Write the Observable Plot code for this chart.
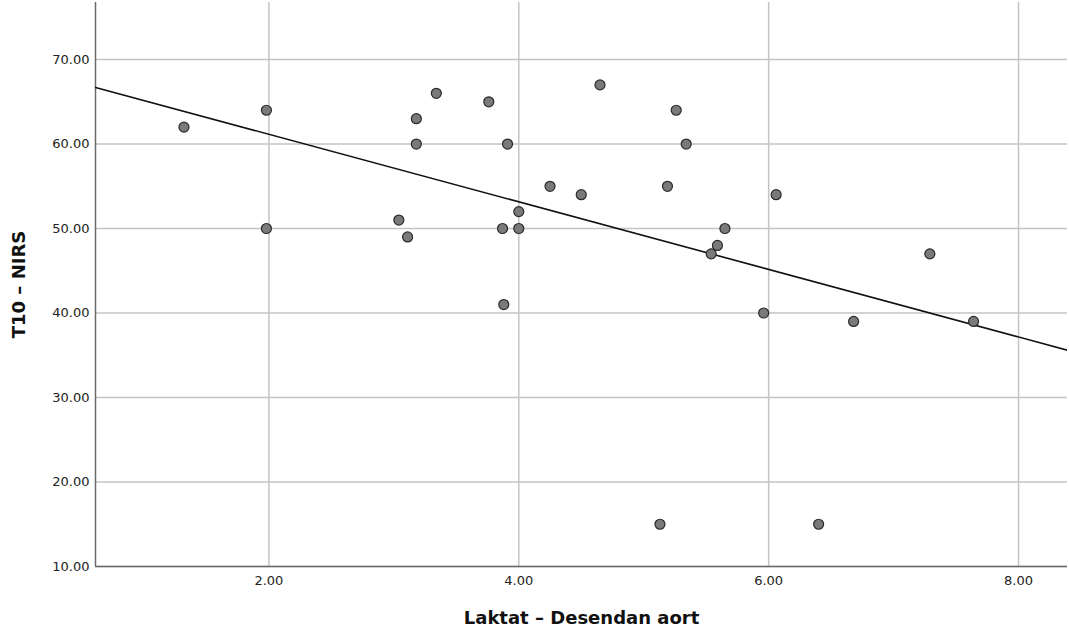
<!DOCTYPE html>
<html><head><meta charset="utf-8">
<script src="https://cdn.jsdelivr.net/npm/d3@7"></script>
<script src="https://cdn.jsdelivr.net/npm/@observablehq/plot@0.6"></script>
<style>body{margin:0;background:#fff}</style>
</head><body><div id="chart"></div>
<script>
// Laktat – Desendan aort (x) vs T10 – NIRS (y)
const laktat = [1.32, 1.98, 1.98, 3.04, 3.11, 3.18, 3.18, 3.34, 3.76, 3.91, 3.87, 3.88, 4.00, 4.00, 4.25, 4.50, 4.65, 5.26, 5.19, 5.34, 5.13, 5.54, 5.59, 5.65, 5.96, 6.06, 6.40, 6.68, 7.29, 7.64];
const nirs   = [62,   64,   50,   51,   49,   63,   60,   66,   65,   60,   50,   41,   52,   50,   55,   54,   67,   64,   55,   60,   15,   47,   48,   50,   40,   54,   15,   39,   47,   39];
const xTicks = [2, 4, 6, 8];
const yTicks = [10, 20, 30, 40, 50, 60, 70];
const xDomain = [0.612, 8.392];
const yDomain = [10, 76.75];

const data = laktat.map((x, i) => ({x, y: nirs[i]}));
const mx = d3.mean(laktat), my = d3.mean(nirs);
const slope = d3.sum(data, d => (d.x - mx) * (d.y - my)) / d3.sum(data, d => (d.x - mx) ** 2);
const intercept = my - slope * mx;
const fit = xDomain.map(x => ({x, y: intercept + slope * x}));

const fmt = d3.format(".2f");
const chart = Plot.plot({
  width: 1069,
  height: 634,
  marginLeft: 95,
  marginRight: 2,
  marginTop: 2,
  marginBottom: 68,
  style: {fontFamily: "DejaVu Sans", fontSize: "13px", color: "#222", background: "#fff"},
  x: {domain: xDomain},
  y: {domain: yDomain},
  marks: [
    Plot.gridX(xTicks, {stroke: "#c4c4c4", strokeOpacity: 1, strokeWidth: 1.5}),
    Plot.gridY(yTicks, {stroke: "#c4c4c4", strokeOpacity: 1, strokeWidth: 1.5}),
    Plot.axisX(xTicks, {tickSize: 0, tickPadding: 9, tickFormat: fmt, fontSize: 13,
      label: "Laktat – Desendan aort", labelAnchor: "center", labelArrow: "none", labelOffset: 57}),
    Plot.axisY(yTicks, {tickSize: 0, tickPadding: 6, tickFormat: fmt, fontSize: 13,
      label: "T10 – NIRS", labelAnchor: "center", labelArrow: "none", labelOffset: 83}),
    Plot.ruleY([yDomain[0]], {stroke: "#6a6a6a", strokeWidth: 1.5}),
    Plot.ruleX([xDomain[0]], {stroke: "#6a6a6a", strokeWidth: 1.5}),
    Plot.line(fit, {x: "x", y: "y", stroke: "#111", strokeWidth: 1.6, clip: true}),
    Plot.dot(data, {x: "x", y: "y", r: 5, fill: "#7a7a7a", stroke: "#2a2a2a", strokeWidth: 1.2})
  ]
});
// bold axis labels
chart.querySelectorAll("g[aria-label='x-axis label'] text, g[aria-label='y-axis label'] text").forEach(t => {
  t.setAttribute("font-weight", "bold");
  t.setAttribute("font-size", "18px");
  t.setAttribute("fill", "#111");
});
document.getElementById("chart").appendChild(chart);
</script>
</body></html>
